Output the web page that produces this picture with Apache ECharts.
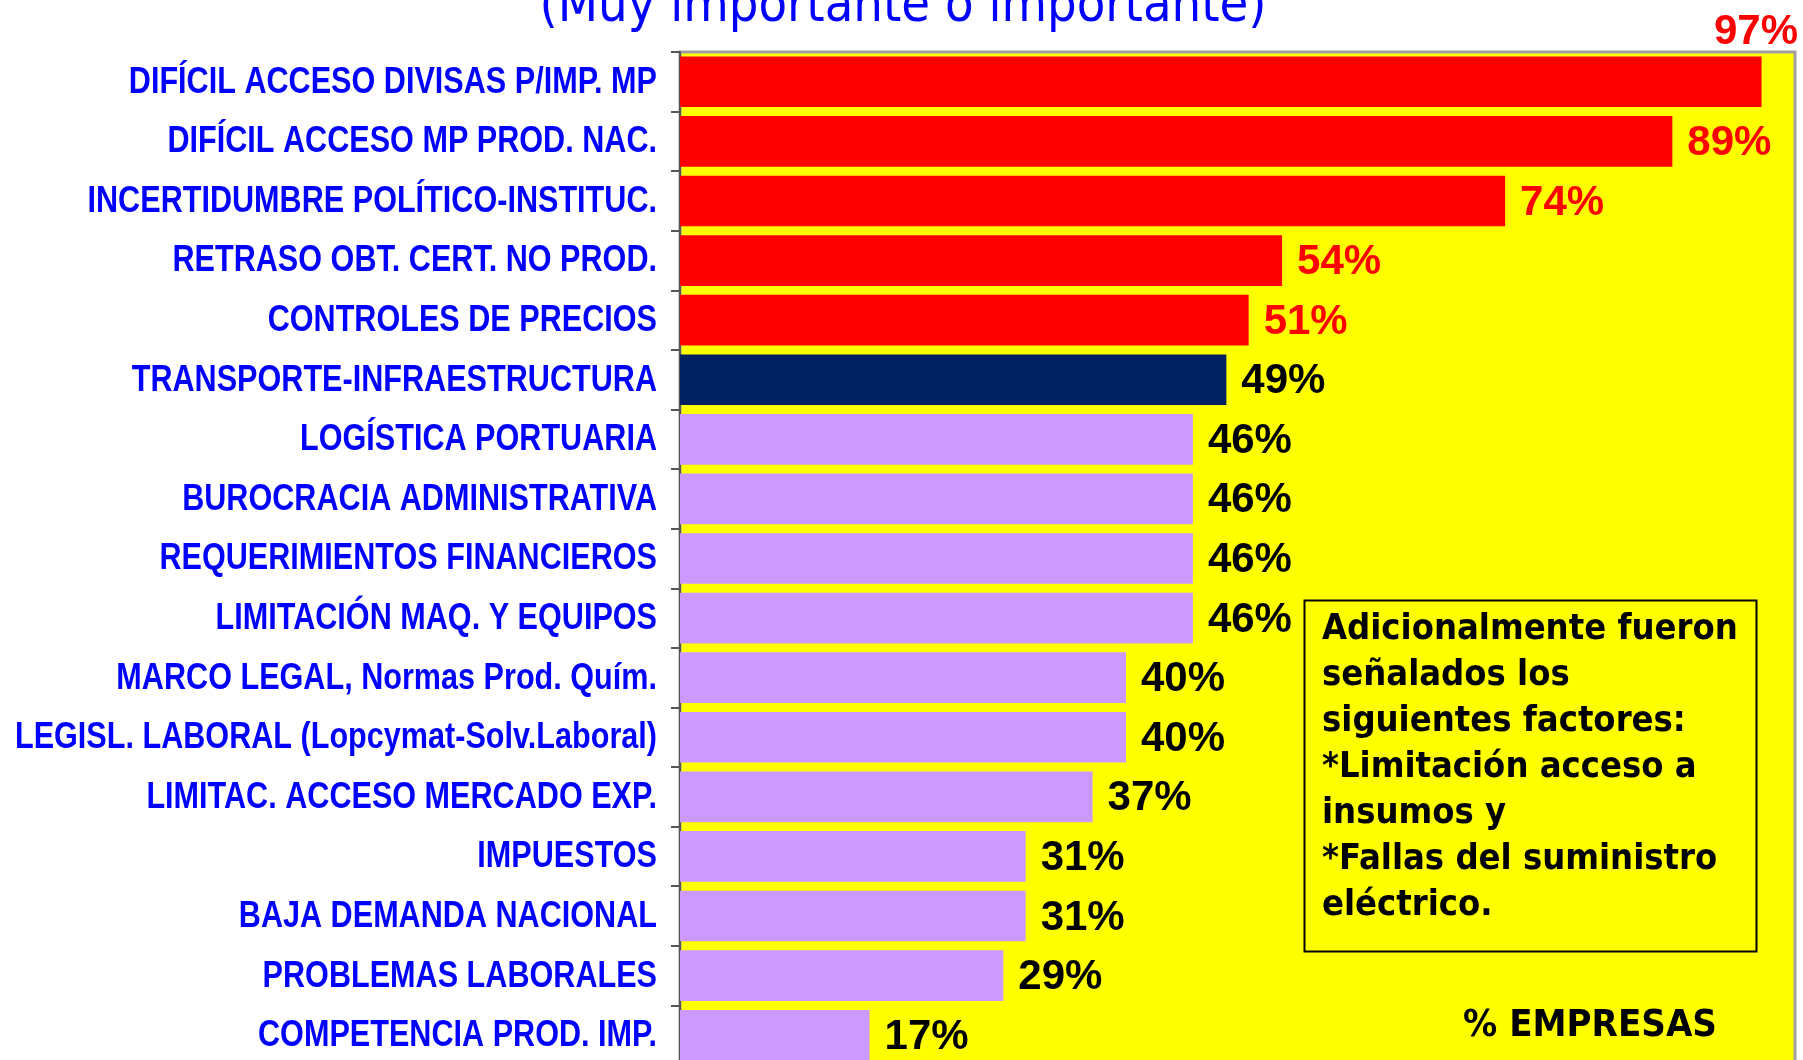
<!DOCTYPE html>
<html lang="es">
<head>
    <meta charset="UTF-8">
    <title>Factores</title>
    <script src="https://cdn.jsdelivr.net/npm/echarts@6/dist/echarts.min.js"></script>
    <style>
        html, body { margin: 0; padding: 0; background: #fff; }
        #main { width: 1803px; height: 1060px; }
    </style>
</head>
<body>
    <div id="main"></div>
    <script>
        // categorias (de arriba hacia abajo)
        var categories = [
            'DIFÍCIL ACCESO DIVISAS P/IMP. MP',
            'DIFÍCIL ACCESO MP PROD. NAC.',
            'INCERTIDUMBRE POLÍTICO-INSTITUC.',
            'RETRASO OBT. CERT. NO PROD.',
            'CONTROLES DE PRECIOS',
            'TRANSPORTE-INFRAESTRUCTURA',
            'LOGÍSTICA PORTUARIA',
            'BUROCRACIA ADMINISTRATIVA',
            'REQUERIMIENTOS FINANCIEROS',
            'LIMITACIÓN MAQ. Y EQUIPOS',
            'MARCO LEGAL, Normas Prod. Quím.',
            'LEGISL. LABORAL (Lopcymat-Solv.Laboral)',
            'LIMITAC. ACCESO MERCADO EXP.',
            'IMPUESTOS',
            'BAJA DEMANDA NACIONAL',
            'PROBLEMAS LABORALES',
            'COMPETENCIA PROD. IMP.'
        ];
        // % de empresas
        var values = [97, 89, 74, 54, 51, 49, 46, 46, 46, 46, 40, 40, 37, 31, 31, 29, 17];
        // grupo de color: 0 rojo, 1 azul oscuro, 2 lila
        var groups = [0, 0, 0, 0, 0, 1, 2, 2, 2, 2, 2, 2, 2, 2, 2, 2, 2];

        var barColors = ['#ff0000', '#00205f', '#cc99ff'];
        var labelColors = ['#ff0000', '#000000', '#000000'];

        var boxLines = [
            'Adicionalmente fueron',
            'señalados los',
            'siguientes factores:',
            '*Limitación acceso a',
            'insumos y',
            '*Fallas del suministro',
            'eléctrico.'
        ];

        var myChart = echarts.init(document.getElementById('main'));

        var seriesData = values.map(function (v, i) {
            var item = {
                value: v,
                itemStyle: { color: barColors[groups[i]] },
                label: { color: labelColors[groups[i]] }
            };
            if (i === 0) {
                // la etiqueta de 97% queda arriba, fuera del area
                item.label = {
                    color: labelColors[groups[i]],
                    position: [1076, -26],
                    align: 'center',
                    verticalAlign: 'middle'
                };
            }
            return item;
        });

        myChart.setOption({
            animation: false,
            title: {
                text: '(Muy importante o importante)',
                left: 898,
                textAlign: 'center',
                top: -24,
                textStyle: {
                    color: '#0000ff',
                    fontFamily: '"DejaVu Sans Condensed", "DejaVu Sans", sans-serif',
                    fontWeight: 'normal',
                    fontSize: 52
                }
            },
            grid: {
                left: 680,
                top: 52,
                width: 1115,
                height: 1013,
                outerBoundsMode: 'none',
                show: true,
                backgroundColor: '#ffff00',
                borderColor: '#a0a0a0',
                borderWidth: 3
            },
            xAxis: {
                type: 'value',
                min: 0,
                max: 100,
                show: false
            },
            yAxis: {
                type: 'category',
                inverse: true,
                data: categories,
                axisLine: { show: true, lineStyle: { color: '#555555', width: 2 } },
                axisTick: { show: true, length: 9, lineStyle: { color: '#555555', width: 2 } },
                axisLabel: { show: false },
                splitLine: { show: false }
            },
            series: [{
                type: 'bar',
                data: seriesData,
                barCategoryGap: '15%',
                label: {
                    show: true,
                    position: 'right',
                    distance: 15,
                    offset: [0, 2],
                    formatter: '{c}%',
                    fontFamily: '"Liberation Sans", Arial, sans-serif',
                    fontWeight: 'bold',
                    fontSize: 42
                }
            }]
        });

        // etiquetas del eje en letra angosta (escaladas en x), ubicadas con la escala del eje
        var axisX = myChart.convertToPixel({ xAxisIndex: 0 }, 0);
        var labelGraphics = categories.map(function (name, i) {
            return {
                type: 'text',
                x: axisX - 23,
                y: myChart.convertToPixel({ yAxisIndex: 0 }, i) + 1,
                scaleX: 0.85,
                style: {
                    text: name,
                    fill: '#0000ff',
                    align: 'right',
                    verticalAlign: 'middle',
                    fontFamily: '"Liberation Sans", Arial, sans-serif',
                    fontWeight: 'bold',
                    fontSize: 36
                }
            };
        });

        myChart.setOption({
            graphic: labelGraphics.concat([
                {
                    type: 'rect',
                    left: 1302,
                    top: 598,
                    shape: { width: 452, height: 351 },
                    style: { fill: 'none', stroke: '#000', lineWidth: 2 }
                },
                {
                    type: 'text',
                    left: 1322,
                    top: 607,
                    style: {
                        text: boxLines.join('\n'),
                        fill: '#000',
                        fontFamily: '"DejaVu Sans Condensed", "DejaVu Sans", sans-serif',
                        fontWeight: 'bold',
                        fontSize: 36,
                        lineHeight: 46
                    }
                },
                {
                    type: 'text',
                    left: 1463,
                    top: 1007,
                    style: {
                        text: '% EMPRESAS',
                        fill: '#000',
                        fontFamily: '"DejaVu Sans Condensed", "DejaVu Sans", sans-serif',
                        fontWeight: 'bold',
                        fontSize: 38
                    }
                }
            ])
        });
    </script>
</body>
</html>
